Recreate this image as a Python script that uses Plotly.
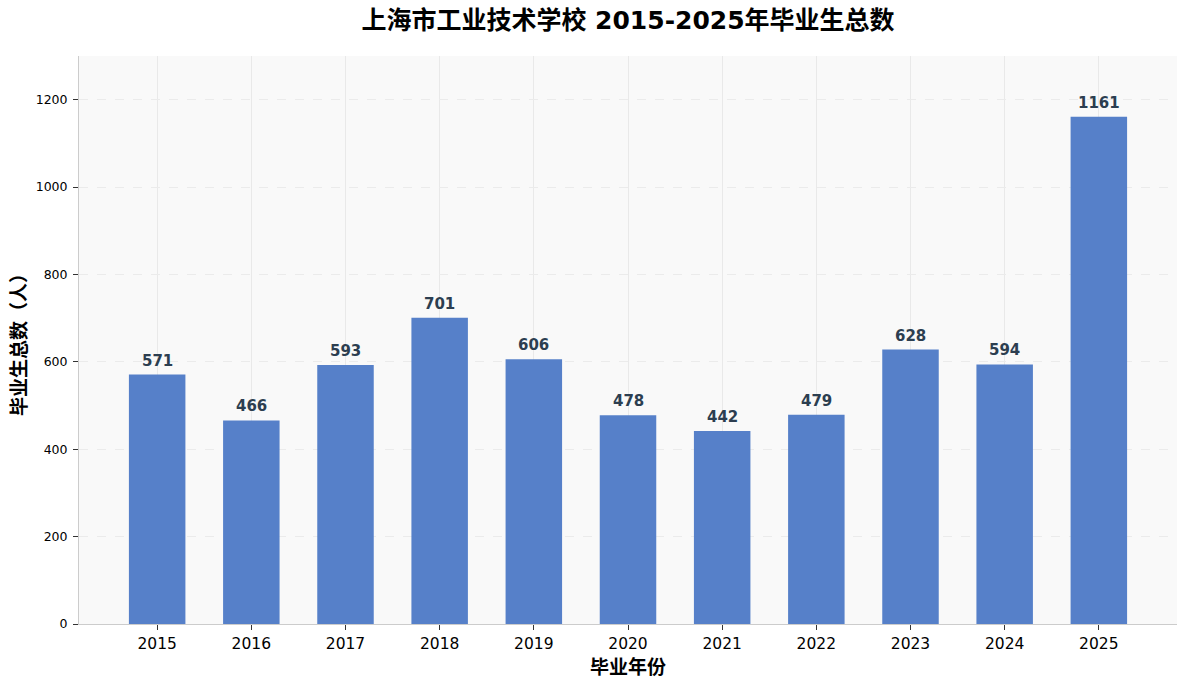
import plotly.graph_objects as go

years = ["2015", "2016", "2017", "2018", "2019", "2020", "2021", "2022", "2023", "2024", "2025"]
graduates = [571, 466, 593, 701, 606, 478, 442, 479, 628, 594, 1161]
y_ticks = [0, 200, 400, 600, 800, 1000, 1200]

FONT = "DejaVu Sans, Noto Sans CJK SC, sans-serif"
xs = list(range(len(years)))

fig = go.Figure(
    go.Bar(
        x=xs,
        y=graduates,
        width=0.6,
        marker=dict(color="#5680C9", line=dict(width=0)),
        hoverinfo="x+y",
    )
)

for xi, v in zip(xs, graduates):
    fig.add_annotation(
        x=xi, y=v, text=f"<b>{v}</b>", showarrow=False,
        yanchor="bottom", yshift=3,
        font=dict(family=FONT, size=15, color="#2c3e50"),
    )

fig.update_layout(
    width=1187,
    height=686,
    margin=dict(l=79, r=10, t=56, b=62),
    paper_bgcolor="white",
    plot_bgcolor="#f9f9f9",
    showlegend=False,
    title=dict(
        text="<b>上海市工业技术学校 2015-2025年毕业生总数</b>",
        x=0.5, xanchor="center", xref="paper",
        y=1 - 20 / 686, yanchor="middle", yref="container",
        font=dict(family=FONT, size=25, color="black"),
    ),
    xaxis=dict(
        tickmode="array",
        tickvals=xs,
        ticktext=years,
        range=[-0.83, 10.83],
        showgrid=True,
        gridcolor="#e9e9e9",
        gridwidth=1,
        showline=True,
        linecolor="#cccccc",
        linewidth=1,
        ticks="outside",
        ticklen=5,
        tickcolor="#333333",
        tickfont=dict(family=FONT, size=15.5, color="black"),
        title=dict(text="<b>毕业年份</b>", font=dict(family=FONT, size=19, color="black"), standoff=9),
        zeroline=False,
    ),
    yaxis=dict(
        range=[0, 1300],
        tickmode="array",
        tickvals=y_ticks,
        showgrid=True,
        gridcolor="#ebebeb",
        griddash="dash",
        gridwidth=1,
        showline=True,
        linecolor="#cccccc",
        linewidth=1,
        ticks="outside",
        ticklen=5,
        ticklabelstandoff=3,
        tickcolor="#333333",
        tickfont=dict(family=FONT, size=12.5, color="black"),
        title=dict(text="<b>毕业生总数（人）</b>", font=dict(family=FONT, size=19, color="black"), standoff=4),
        zeroline=False,
    ),
)

fig.write_html("out.html")
